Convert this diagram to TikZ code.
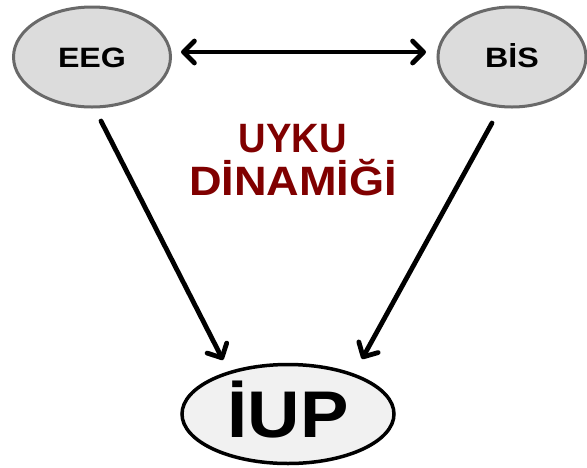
\documentclass[tikz,border=0pt]{standalone}
\usepackage{fontspec}
\setmainfont{Liberation Sans}
\usetikzlibrary{arrows.meta,shapes.geometric}
\definecolor{ellfill}{RGB}{220,220,220}
\definecolor{ellline}{RGB}{105,105,105}
\definecolor{iupfill}{RGB}{241,241,241}
\definecolor{darkred}{RGB}{128,0,0}
\begin{document}
\begin{tikzpicture}[x=1pt,y=-1pt,
  smallell/.style={draw=ellline,fill=ellfill,line width=3pt,ellipse,minimum width=157pt,minimum height=100pt,inner sep=0pt,text height=20pt,text depth=0pt,font=\bfseries\fontsize{28}{30}\selectfont},
  bigell/.style={draw=black,fill=iupfill,line width=3.5pt,ellipse,minimum width=212pt,minimum height=99pt,inner sep=0pt,text height=47pt,text depth=0pt,font=\bfseries\fontsize{66}{70}\selectfont},
  tip/.tip={Straight Barb[length=11pt,width=22pt,line width=4.8pt,line cap=round,line join=round]},
  conn/.style={line width=4.8pt,line cap=round,-tip},
  dconn/.style={line width=4.8pt,line cap=round,tip-tip},
  title/.style={text=darkred,font=\bfseries\fontsize{41}{44}\selectfont,text height=29pt,text depth=0pt}]
\useasboundingbox (0,0) rectangle (587,467);
\fill[white] (0,0) rectangle (587,467);
\node[smallell] (eeg) at (92,57) {\scalebox{1.15}[1]{EEG}};
\node[smallell,minimum width=148pt] (bis) at (512,57) {\scalebox{1.15}[1]{BİS}};
\node[bigell] (iup) at (288,414) {\scalebox{1.1}[1]{İUP}};
\node[title] (uyku) at (293,138) {\scalebox{0.93}[1]{UYKU}};
\node[title] (din) at (293,181) {\scalebox{1.1}[1]{DİNAMİĞİ}};
\coordinate (d1) at (181,52);
\coordinate (d2) at (426,52);
\coordinate (l1) at (101,121);
\coordinate (l2) at (223,360);
\coordinate (r1) at (492,123);
\coordinate (r2) at (362,359);
\draw[dconn] (d1) -- (d2);
\draw[conn] (l1) -- (l2);
\draw[conn] (r1) -- (r2);
\end{tikzpicture}
\end{document}
